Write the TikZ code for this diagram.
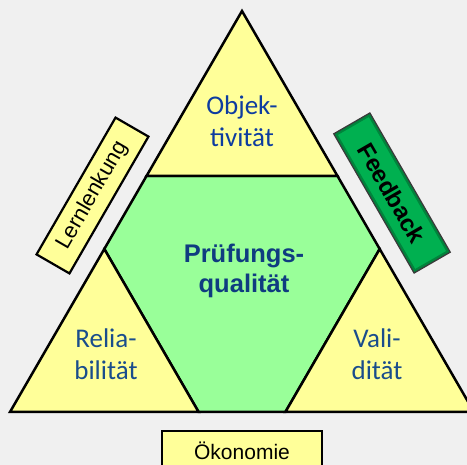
\documentclass[tikz,border=0pt]{standalone}
\usepackage{fontspec}
\setmainfont{Liberation Sans}
\newfontfamily\calibrifont{Carlito}
\definecolor{bg}{HTML}{F0F0F0}
\definecolor{tyellow}{HTML}{FFFF99}
\definecolor{hgreen}{HTML}{99FF99}
\definecolor{fbgreen}{HTML}{00B050}
\definecolor{fbdark}{HTML}{00843C}
\definecolor{fbedge}{HTML}{3A3A3A}
\definecolor{lblue}{HTML}{0D3CA0}
\definecolor{lblue2}{HTML}{1A4D8C}
\definecolor{qblue}{HTML}{0F3C80}
\tikzset{
  tri/.style={fill=tyellow, draw=black, line width=2.5pt, line join=miter},
  hexa/.style={fill=hgreen, draw=black, line width=2.5pt, line join=miter},
  lab/.style={align=center, inner sep=0pt, font=\calibrifont\fontsize{27}{32}\selectfont},
  qlab/.style={align=center, inner sep=0pt, font=\bfseries\fontsize{25.5}{30}\selectfont, text=qblue},
  sidebox/.style={draw=black, line width=2.2pt, fill=tyellow, inner sep=0pt,
    minimum width=158pt, minimum height=38pt, font=\fontsize{22}{26}\selectfont},
  fbbox/.style={preaction={draw=fbedge, line width=5pt}, draw=fbdark, line width=2.2pt,
    fill=fbgreen, inner sep=0pt, minimum width=157pt, minimum height=38pt,
    font=\bfseries\fontsize{24}{28}\selectfont},
  okbox/.style={draw=black, line width=2pt, fill=tyellow, inner sep=0pt,
    minimum width=160pt, minimum height=40pt, font=\fontsize{21}{25}\selectfont}
}
\begin{document}
\begin{tikzpicture}[x=1pt,y=-1pt]
\useasboundingbox (0,0) rectangle (467,465);
\clip (0,0) rectangle (467,465);
\fill[bg] (0,0) rectangle (467,465);
% corners of the big triangle and division points
\coordinate (A) at (242,11);
\coordinate (L) at (10,412);
\coordinate (R) at (474,412);
\coordinate (TL) at (146.5,176);
\coordinate (TR) at (337.5,176);
\coordinate (ML) at (104.3,249);
\coordinate (MR) at (379.7,249);
\coordinate (BL) at (198.6,412);
\coordinate (BR) at (285.4,412);
% hexagon and triangles
\path[hexa] (TL) -- (TR) -- (MR) -- (BR) -- (BL) -- (ML) -- cycle;
\path[tri] (A) -- (TR) -- (TL) -- cycle;
\path[tri] (ML) -- (BL) -- (L) -- cycle;
\path[tri] (MR) -- (R) -- (BR) -- cycle;
% labels
\node[lab, text=lblue] (obj) at (242,121) {Objek-\\tivität};
\node[lab, text=lblue2] (rel) at (106,354) {Relia-\\bilität};
\node[lab, text=lblue2] (val) at (377,354) {Vali-\\dität};
\node[qlab] (pq) at (244,271) {Prüfungs-\\qualität};
% side boxes
\node[sidebox, rotate=60] (ll) at (92.5,195.5) {Lernlenkung};
\node[fbbox, rotate=-60] (fb) at (392,193) {Feedback};
\node[okbox] (ok) at (242,451) {Ökonomie};
\end{tikzpicture}
\end{document}
